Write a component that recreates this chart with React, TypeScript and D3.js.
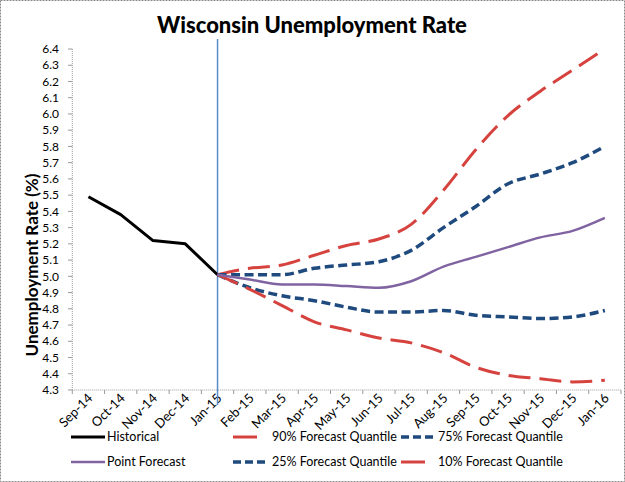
import React, { useEffect } from "react";
import * as d3 from "d3";

const histCats = ["Sep-14", "Oct-14", "Nov-14", "Dec-14", "Jan-15"];
const foreCats = ["Jan-15", "Feb-15", "Mar-15", "Apr-15", "May-15", "Jun-15", "Jul-15", "Aug-15", "Sep-15", "Oct-15", "Nov-15", "Dec-15", "Jan-16"];
const categories = ["Sep-14", "Oct-14", "Nov-14", "Dec-14", "Jan-15", "Feb-15", "Mar-15", "Apr-15", "May-15", "Jun-15", "Jul-15", "Aug-15", "Sep-15", "Oct-15", "Nov-15", "Dec-15", "Jan-16"];

const historical = [5.49, 5.38, 5.22, 5.2, 5.01];
const pointForecast = [5.01, 4.98, 4.95, 4.95, 4.94, 4.93, 4.97, 5.06, 5.12, 5.18, 5.24, 5.28, 5.36];
const q90 = [5.01, 5.05, 5.07, 5.13, 5.19, 5.23, 5.32, 5.53, 5.78, 5.99, 6.14, 6.27, 6.4];
const q75 = [5.01, 5.01, 5.01, 5.05, 5.07, 5.09, 5.16, 5.3, 5.43, 5.57, 5.63, 5.7, 5.8];
const q25 = [5.01, 4.93, 4.88, 4.85, 4.81, 4.78, 4.78, 4.79, 4.76, 4.75, 4.74, 4.75, 4.79];
const q10 = [5.01, 4.92, 4.82, 4.72, 4.67, 4.62, 4.59, 4.53, 4.44, 4.39, 4.37, 4.35, 4.36];

const yTicks = [4.3, 4.4, 4.5, 4.6, 4.7, 4.8, 4.9, 5.0, 5.1, 5.2, 5.3, 5.4, 5.5, 5.6, 5.7, 5.8, 5.9, 6.0, 6.1, 6.2, 6.3, 6.4];

const W = 625;
const H = 482;
const FONT = "Lato, 'Open Sans', sans-serif";

const RED = "#D6433F";
const NAVY = "#1F4A7E";
const PURPLE = "#8064A2";
const BLACK = "#000000";

export default function App() {
  useEffect(() => {
    document.body.style.margin = "0";
  }, []);

  const x = d3.scaleBand<string>().domain(categories).range([72.3, 621]).paddingInner(0).paddingOuter(0);
  const bw = x.bandwidth();
  const cx = (c: string) => (x(c) as number) + bw / 2;
  const y = d3.scaleLinear().domain([4.3, 6.4]).range([390, 49]);

  const histLine = d3
    .line<number>()
    .x((_, i) => cx(histCats[i]))
    .y((d) => y(d))
    .curve(d3.curveLinear);
  const foreLine = d3
    .line<number>()
    .x((_, i) => cx(foreCats[i]))
    .y((d) => y(d))
    .curve(d3.curveMonotoneX);

  const series = [
    { name: "90% Forecast Quantile", data: q90, color: RED, width: 3, dash: "22,9" },
    { name: "75% Forecast Quantile", data: q75, color: NAVY, width: 3.5, dash: "9,4.5" },
    { name: "25% Forecast Quantile", data: q25, color: NAVY, width: 3.5, dash: "9,4.5" },
    { name: "10% Forecast Quantile", data: q10, color: RED, width: 3, dash: "22,9" },
  ];

  const legend = [
    { label: "Historical", color: BLACK, width: 3, dash: "none", sx: 71, tx: 107, ty: 437, len: 34 },
    { label: "90% Forecast Quantile", color: RED, width: 3, dash: "24,12", sx: 233, tx: 272, ty: 437, len: 24 },
    { label: "75% Forecast Quantile", color: NAVY, width: 3.5, dash: "8,4", sx: 401, tx: 438, ty: 437, len: 34 },
    { label: "Point Forecast", color: PURPLE, width: 2.5, dash: "none", sx: 71, tx: 107, ty: 462, len: 34 },
    { label: "25% Forecast Quantile", color: NAVY, width: 3.5, dash: "8,4", sx: 233, tx: 272, ty: 462, len: 32 },
    { label: "10% Forecast Quantile", color: RED, width: 3, dash: "24,12", sx: 401, tx: 438, ty: 462, len: 24 },
  ];

  const janX = cx("Jan-15");

  return (
    <svg width={W} height={H} style={{ display: "block", position: "absolute", left: 0, top: 0 }} fontFamily={FONT}>
      <rect x={0} y={0} width={W} height={H} fill="#ffffff" />
      <rect x={0.5} y={0.5} width={W - 1} height={H - 1} fill="none" stroke="#8a8a8a" strokeDasharray="2,1" />

      <text x={312} y={33} textAnchor="middle" fontSize={22} fontWeight="900" fill="#000">
        Wisconsin Unemployment Rate
      </text>

      {/* y axis */}
      <line x1={72.3} x2={72.3} y1={49} y2={390} stroke="#9a9a9a" strokeDasharray="1,1" />
      {yTicks.map((t) => (
        <g key={t}>
          <line x1={68} x2={72.3} y1={y(t)} y2={y(t)} stroke="#9a9a9a" />
          <text x={59} y={y(t)} dy="0.35em" textAnchor="end" fontSize={12} fill="#000">
            {t.toFixed(1)}
          </text>
        </g>
      ))}
      <text
        transform={`translate(38,${265}) rotate(-90)`}
        textAnchor="middle"
        fontSize={17}
        fontWeight="bold"
        fill="#000"
      >
        Unemployment Rate (%)
      </text>

      {/* x axis */}
      <line x1={72.3} x2={621} y1={390} y2={390} stroke="#9a9a9a" strokeDasharray="1,1" />
      {categories.concat(["__end"]).map((c, i) => {
        const xx = i < categories.length ? (x(c) as number) : 621;
        return <line key={"t" + i} x1={xx} x2={xx} y1={390} y2={394} stroke="#9a9a9a" />;
      })}
      {categories.map((c) => (
        <text
          key={c}
          transform={`translate(${cx(c) + 5},${399}) rotate(-45)`}
          textAnchor="end"
          fontSize={13}
          fill="#000"
        >
          {c}
        </text>
      ))}

      {/* Jan-15 marker */}
      <line x1={janX} x2={janX} y1={39} y2={405} stroke="#5A8BCB" strokeWidth={1.5} />

      {/* lines */}
      <path d={histLine(historical) || ""} fill="none" stroke={BLACK} strokeWidth={3} strokeLinejoin="round" />
      {series.map((s) => (
        <path
          key={s.name}
          d={foreLine(s.data) || ""}
          fill="none"
          stroke={s.color}
          strokeWidth={s.width}
          strokeDasharray={s.dash}
        />
      ))}
      <path d={foreLine(pointForecast) || ""} fill="none" stroke={PURPLE} strokeWidth={2.5} strokeLinejoin="round" />

      {/* legend */}
      {legend.map((l) => (
        <g key={l.label}>
          <line
            x1={l.sx}
            x2={l.sx + l.len}
            y1={l.ty}
            y2={l.ty}
            stroke={l.color}
            strokeWidth={l.width}
            strokeDasharray={l.dash}
          />
          <text x={l.tx} y={l.ty} dy="0.35em" fontSize={12.5} fill="#000">
            {l.label}
          </text>
        </g>
      ))}
    </svg>
  );
}
